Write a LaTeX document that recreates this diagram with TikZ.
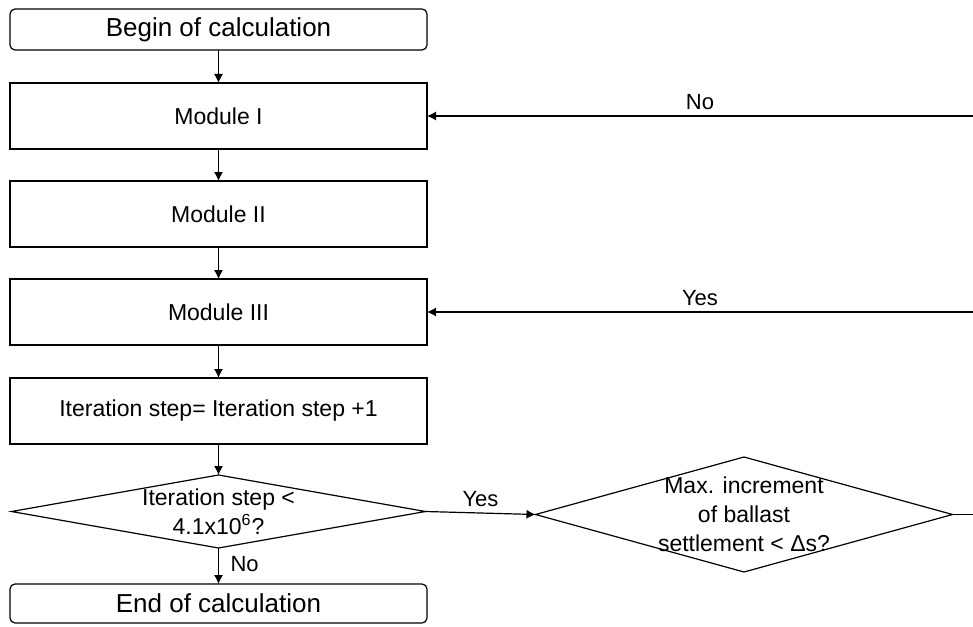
\documentclass[tikz,border=0pt]{standalone}
\usepackage{fontspec}
\setmainfont{Liberation Sans}
\usetikzlibrary{shapes.geometric,positioning,arrows.meta}

\begin{document}
\begin{tikzpicture}[line width=0.6pt,every node/.style={outer sep=0pt}]
	\tikzset{terminal/.style={draw,rounded corners=2.5pt,minimum width=208.5pt,minimum height=20.5pt,inner sep=0pt,font=\fontsize{13}{15}\selectfont}}
	\tikzset{process/.style={draw,minimum width=208.5pt,minimum height=33pt,inner sep=0pt,font=\fontsize{11.5}{14}\selectfont}}
	\tikzset{decision/.style={draw,diamond,inner sep=0pt,label={[align=center,font=\fontsize{11.5}{14.5}\selectfont]center:#1}}}
	\tikzset{answer/.style={font=\fontsize{11}{13}\selectfont,inner sep=3pt}}
	\tikzset{flow/.style={-{Latex[length=4.5pt,width=4.5pt]}}}
	\useasboundingbox (0,0) rectangle (486.5pt,-313pt);
	\coordinate (rim) at (486.5pt,0);
	% main column
	\node[terminal] (begin) at (109.25pt,-14.75pt) {Begin of calculation};
	\node[process,below=16.5pt of begin] (m1) {Module I};
	\node[process,below=16pt of m1] (m2) {Module II};
	\node[process,below=16pt of m2] (m3) {Module III};
	\node[process,below=16.5pt of m3] (step) {Iteration step= Iteration step +1};
	\node[decision={Iteration step <\\4.1x10\textsuperscript{6}?},minimum width=207pt,minimum height=36.5pt,below=15.5pt of step] (q1) {};
	\node[terminal,minimum height=19.5pt,below=18pt of q1] (end) {End of calculation};
	% convergence check
	\node[decision={Max. increment\\of ballast\\settlement < Δs?},minimum width=208.5pt,minimum height=57.5pt,right=55pt of q1,yshift=-1.5pt] (q2) {};
	\draw[flow] (begin) -- (m1);
	\draw[flow] (m1) -- (m2);
	\draw[flow] (m2) -- (m3);
	\draw[flow] (m3) -- (step);
	\draw[flow] (step) -- (q1);
	\draw[flow] (q1) -- node[answer,right,xshift=3pt,yshift=1pt]{No} (end);
	\draw[flow] (q1.east) -- node[answer,above]{Yes} (q2.west);
	\draw (q2.east) -- (q2.east -| rim);
	\draw[flow] (m1.east -| rim) -- node[answer,above]{No} (m1);
	\draw[flow] (m3.east -| rim) -- node[answer,above]{Yes} (m3);
\end{tikzpicture}
\end{document}
